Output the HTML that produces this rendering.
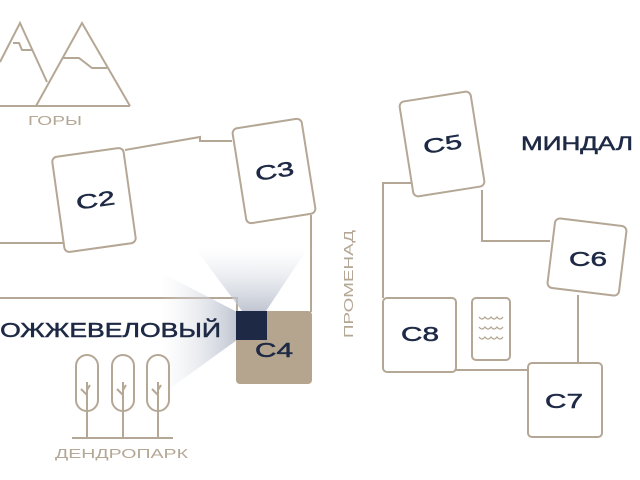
<!DOCTYPE html>
<html><head><meta charset="utf-8"><style>
html,body{margin:0;padding:0;background:#fff;width:640px;height:480px;overflow:hidden}
svg{display:block}
text{font-family:"Liberation Sans","DejaVu Sans",sans-serif}
</style></head><body>
<svg width="640" height="480" viewBox="0 0 640 480" xmlns="http://www.w3.org/2000/svg">
<defs>
<linearGradient id="gu" x1="0" y1="1" x2="0" y2="0"><stop offset="0" stop-color="#b9bfcc" stop-opacity="0.9"/><stop offset="1" stop-color="#dde1e8" stop-opacity="0"/></linearGradient>
<linearGradient id="gl" x1="1" y1="0" x2="0" y2="0"><stop offset="0" stop-color="#b9bfcc" stop-opacity="0.9"/><stop offset="1" stop-color="#e6e9ee" stop-opacity="0"/></linearGradient>
</defs>
<g fill="none" stroke="#b5a795" stroke-width="2">
<polyline points="0,62 20,23 47,82"/>
<polyline points="13,43 19,43 22,50 32,50"/>
<polyline points="36,106 82,23 130,106"/>
<polyline points="63,58 79,58 92,68 107,68"/>
<line x1="0" y1="106" x2="130" y2="106"/>
<polyline points="125,150 200,137 200,141 232,141"/>
<line x1="0" y1="243" x2="64" y2="243"/>
<line x1="311" y1="215" x2="311" y2="312"/>
<polyline points="0,298 237,298 237,311"/>
<polyline points="413,183 383,183 383,298"/>
<polyline points="482,190 482,241 550,241"/>
<line x1="578" y1="295" x2="578" y2="363"/>
<line x1="456" y1="370" x2="528" y2="370"/>
</g>
<polygon points="242,311 266,311 308,248 195,248" fill="url(#gu)"/>
<polygon points="237,312 237,340 165,392 160,272" fill="url(#gl)"/>
<g fill="#fff" stroke="#b5a795" stroke-width="2">
<rect x="-36" y="-48" width="72" height="96" rx="5" transform="translate(94,200) rotate(-8)"/>
<rect x="-35" y="-48" width="70" height="96" rx="5" transform="translate(274,171) rotate(-9)"/>
<rect x="-36" y="-48" width="72" height="96" rx="5" transform="translate(442,144) rotate(-9)"/>
<rect x="-36" y="-35" width="72" height="70" rx="5" transform="translate(587,257) rotate(7)"/>
<rect x="383" y="298" width="73" height="74" rx="4"/>
<rect x="472" y="298" width="38" height="62" rx="4"/>
<rect x="528" y="363" width="74" height="74" rx="4"/>
</g>
<rect x="236" y="311" width="76" height="73" rx="4" fill="#b5a48e"/>
<rect x="236" y="311" width="31" height="29" fill="#1e2a45"/>
<g fill="none" stroke="#b5a795" stroke-width="1.2">
<path d="M479,317 q3,4 6,0 q3,4 6,0 q3,4 6,0 q3,4 6,0"/>
<path d="M479,327 q3,4 6,0 q3,4 6,0 q3,4 6,0 q3,4 6,0"/>
<path d="M479,337 q3,4 6,0 q3,4 6,0 q3,4 6,0 q3,4 6,0"/>
</g>
<g fill="none" stroke="#b5a795" stroke-width="2">
<rect x="76" y="355" width="22" height="56" rx="11"/>
<rect x="112" y="355" width="22" height="56" rx="11"/>
<rect x="147" y="355" width="22" height="56" rx="11"/>
<path d="M87,382 V438 M87,395 L81,389 M87,390 L90,385"/>
<path d="M123,382 V438 M123,395 L117,389 M123,390 L126,385"/>
<path d="M158,382 V438 M158,395 L152,389 M158,390 L161,385"/>
<line x1="72" y1="438" x2="173" y2="438"/>
</g>
<g fill="#1e2a45" font-size="20" stroke="#1e2a45" stroke-width="0.5">
<text x="76" y="207" textLength="39" lengthAdjust="spacingAndGlyphs" transform="rotate(-8 95 200)">C2</text>
<text x="255" y="178" textLength="39" lengthAdjust="spacingAndGlyphs" transform="rotate(-9 274 171)">C3</text>
<text x="423" y="151" textLength="39" lengthAdjust="spacingAndGlyphs" transform="rotate(-9 442 144)">C5</text>
<text x="569" y="266" textLength="38" lengthAdjust="spacingAndGlyphs">C6</text>
<text x="401" y="341" textLength="38" lengthAdjust="spacingAndGlyphs">C8</text>
<text x="545" y="408" textLength="38" lengthAdjust="spacingAndGlyphs">C7</text>
<text x="255" y="357" textLength="38" lengthAdjust="spacingAndGlyphs">C4</text>
<text x="-22" y="337" textLength="243" lengthAdjust="spacingAndGlyphs">МОЖЖЕВЕЛОВЫЙ</text>
<text x="521" y="150" font-size="19" textLength="112" lengthAdjust="spacingAndGlyphs">МИНДАЛ</text>
</g>
<text x="28" y="125" font-size="13" fill="#b5a795" textLength="54" lengthAdjust="spacingAndGlyphs">ГОРЫ</text>
<text x="55" y="458" font-size="13" fill="#b5a795" textLength="133" lengthAdjust="spacingAndGlyphs">ДЕНДРОПАРК</text>
<text x="0" y="0" font-size="13" fill="#b5a795" textLength="108" lengthAdjust="spacingAndGlyphs" transform="translate(353,338) rotate(-90)">ПРОМЕНАД</text>
</svg>
</body></html>
